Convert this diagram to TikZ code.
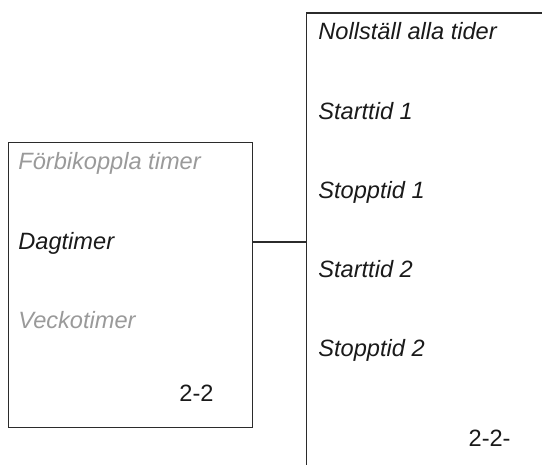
\documentclass[tikz,border=0pt]{standalone}
\usepackage{fontspec}
\setmainfont{Liberation Sans}
\usetikzlibrary{positioning,calc}
\definecolor{menuline}{HTML}{2B2B2B}
\definecolor{menudim}{HTML}{9A9A9A}
\definecolor{menutext}{HTML}{1A1A1A}

\begin{document}
\begin{tikzpicture}[x=0.5pt,y=0.5pt,font=\fontsize{11.8}{13}\selectfont\itshape,
    item/.style={anchor=base west,inner sep=0pt,text=menutext},
    dimitem/.style={item,text=menudim},
    pagenum/.style={anchor=base east,inner sep=0pt,text=menutext,font=\fontsize{11.8}{13}\selectfont\upshape},
    frame/.style={draw=menuline,line width=0.6pt}]
  \useasboundingbox (0,0) rectangle (542,465);
  \clip (0,0) rectangle (542,465);
  % left menu
  \node[frame,anchor=south west,minimum width=122pt,minimum height=142.5pt,inner sep=0pt]
    (daymenu) at (8,37) {};
  \node[dimitem] (bypass) at (18,295) {Förbikoppla timer};
  \node[item] (daytimer) at (18,215) {Dagtimer};
  \node[dimitem] (weektimer) at (18,136) {Veckotimer};
  \node[pagenum] (daypage) at (214,63) {2-2};
  % right menu, runs off the page
  \coordinate (settop) at (306.5,452);
  \draw[frame] (560,452) -- (settop) -- (306.5,-20);
  \foreach \i/\l in {0/Nollställ alla tider,1/Starttid 1,2/Stopptid 1,
      3/Starttid 2,4/Stopptid 2}
    {\node[item] (set\i) at (318,425-\i*79.25) {\l};}
  \node[pagenum] (setpage) at (511,18) {2-2-};
  % link
  \coordinate (linkin) at (306.5,223);
  \draw[frame] (daymenu.east |- linkin) -- (linkin);
\end{tikzpicture}
\end{document}
